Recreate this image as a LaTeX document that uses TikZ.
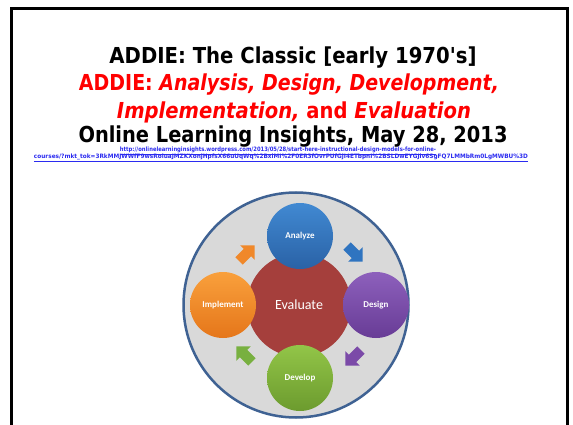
\documentclass[tikz,border=0pt]{standalone}
\usepackage{fontspec}
\setmainfont{DejaVu Sans}
\newfontfamily\lblfont{Carlito}
\usetikzlibrary{shapes.arrows}

\definecolor{ringgrey}{HTML}{D9D9D9}
\definecolor{ringblue}{HTML}{3F6293}
\definecolor{evalred}{HTML}{A53F3C}
\definecolor{titlered}{HTML}{FF0000}
\definecolor{urlblue}{HTML}{2B2BF0}
\definecolor{anaTop}{HTML}{4189D2}
\definecolor{anaBot}{HTML}{2A62A6}
\definecolor{desTop}{HTML}{8D60BC}
\definecolor{desBot}{HTML}{683C96}
\definecolor{devTop}{HTML}{92C548}
\definecolor{devBot}{HTML}{6C9B2E}
\definecolor{impTop}{HTML}{F9A03C}
\definecolor{impBot}{HTML}{E5761A}
\definecolor{arrOrange}{HTML}{F0882A}
\definecolor{arrBlue}{HTML}{2F74C0}
\definecolor{arrPurple}{HTML}{7B4AA8}
\definecolor{arrGreen}{HTML}{78B040}

% stretch a line of text to a given width, keeping its height
\newcommand{\fitto}[2]{\resizebox{#1}{\height}{#2}}

\tikzset{
  titleline/.style={inner sep=0pt, font=\fontsize{22}{22}\selectfont\bfseries},
  urlline/.style={inner sep=0pt, text=urlblue, font=\fontsize{6}{6}\selectfont\bfseries},
  phase/.style={circle, minimum size=66pt, inner sep=0pt, text=white,
                font=\lblfont\fontsize{9}{9}\selectfont\bfseries},
  flow/.style={single arrow, inner sep=5pt, minimum height=22pt,
               single arrow head extend=5pt, single arrow head indent=0pt},
}

\begin{document}
\begin{tikzpicture}[x=1pt, y=-1pt]
  \useasboundingbox (0,0) rectangle (573,425);
  \fill[white] (0,0) rectangle (573,425);

  % slide frame (open at the bottom)
  \coordinate (fbl) at (11,425);
  \coordinate (ftl) at (11,9);
  \coordinate (ftr) at (567,9);
  \coordinate (fbr) at (567,425);
  \draw[line width=3pt] (fbl) -- (ftl) -- (ftr) -- (fbr);

  % title block
  \node[titleline] (t1) at (293,58)
    {\fitto{367pt}{ADDIE: The Classic [early 1970\textquotesingle s]}};
  \node[titleline, text=titlered] (t2) at (289,85)
    {\fitto{420pt}{ADDIE: \itshape Analysis, Design, Development,}};
  \node[titleline, text=titlered] (t3) at (294,112)
    {\fitto{354pt}{\itshape Implementation,\upshape{} and \itshape Evaluation}};
  \node[titleline] (t4) at (293,137) {\fitto{429pt}{Online Learning Insights, May 28, 2013}};

  % source link
  \node[urlline] (u1) at (278,151)
    {\fitto{316pt}{\underline{http://onlinelearninginsights.wordpress.com/2013/05/28/start-here-instructional-design-models-for-online-}}};
  \node[urlline] (u2) at (281,158)
    {\fitto{494pt}{\underline{courses/?mkt\_tok=3RkMMJWWfF9wsRoiuaJMZKXonjHpfsX66uUqWq\%2BxlMI\%2F0ER3fOvrPUfGjI4ETbpnI\%2BSLDwEYGJlv6SgFQ7LMMbRm0LgMWBU\%3D}}};

  % ADDIE cycle
  \node[circle, draw=ringblue, line width=2.5pt, fill=ringgrey, minimum size=225pt,
        inner sep=0pt] (ring) at (296,305) {};
  \node[circle, fill=evalred, minimum size=104pt, inner sep=0pt, text=white,
        font=\lblfont\fontsize{14}{14}\selectfont] (eval) at (299,305) {Evaluate};

  \node[phase, top color=anaTop, bottom color=anaBot] (analyze) at (300,236) {Analyze};
  \node[phase, top color=desTop, bottom color=desBot] (design) at (376,305) {Design};
  \node[phase, top color=devTop, bottom color=devBot] (develop) at (300,378) {Develop};
  \node[phase, top color=impTop, bottom color=impBot] (implement) at (223,305) {Implement};

  % flow arrows between the phases
  \node[flow, fill=arrBlue, rotate=-45] (a1) at (353,252) {};
  \node[flow, fill=arrPurple, rotate=-135] (a2) at (355,356) {};
  \node[flow, fill=arrGreen, rotate=135] (a3) at (246,356) {};
  \node[flow, fill=arrOrange, rotate=45] (a4) at (245,255) {};
\end{tikzpicture}
\end{document}
